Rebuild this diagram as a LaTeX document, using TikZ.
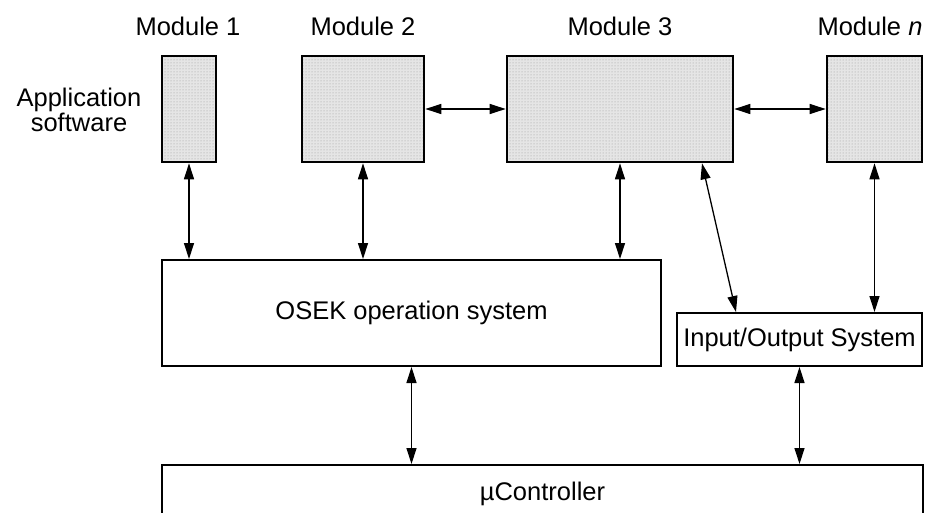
\documentclass[tikz,border=0pt]{standalone}
\usepackage{fontspec}
\setmainfont{Liberation Sans}
\usetikzlibrary{arrows.meta,patterns}
\begin{document}
\begin{tikzpicture}[x=1pt,y=-1pt,
  every node/.style={font=\fontsize{25.5}{23.5}\selectfont},
  modbox/.style={draw, line width=2.6pt, pattern=dots, pattern color=gray!80, inner sep=0pt},
  sysbox/.style={draw, line width=2pt, fill=white, inner sep=1pt},
  conn/.style={line width=1.3pt, {Triangle[length=16pt,width=10pt]}-{Triangle[length=16pt,width=10pt]}},
  lbl/.style={inner sep=0pt, anchor=base}
]
\useasboundingbox (0,0) rectangle (934,513);
% module backgrounds
\fill[gray!20] (162,56) rectangle (216,162);
\fill[gray!20] (302,56) rectangle (424,162);
\fill[gray!20] (507,56) rectangle (733,162);
\fill[gray!20] (827,56) rectangle (922,162);
% modules
\node[modbox, minimum width=54pt, minimum height=106pt] (m1) at (189,109) {};
\node[modbox, minimum width=122pt, minimum height=106pt] (m2) at (363,109) {};
\node[modbox, minimum width=226pt, minimum height=106pt] (m3) at (620,109) {};
\node[modbox, minimum width=95pt, minimum height=106pt] (mn) at (874.5,109) {};
% labels
\node[lbl] (l1) at (188,36) {Module 1};
\node[lbl] (l2) at (363,36) {Module 2};
\node[lbl] (l3) at (620,36) {Module 3};
\node[lbl] (ln) at (870,36) {Module \textit{n}};
\node[align=center, inner sep=0pt] (app) at (79,110) {Application\\software};
% systems
\node[sysbox, minimum width=499pt, minimum height=106pt] (os) at (411.5,313) {OSEK operation system};
\node[sysbox, minimum width=245pt, minimum height=53pt, inner sep=0pt] (io) at (799.5,339.5) {Input/Output System};
\node[draw, line width=2pt, anchor=north, minimum width=761pt, inner ysep=10pt, text height=25pt, text depth=60pt] (uc) at (542.5,464) {µController};
% connectors
\draw[conn] (m1.south) -- (m1.south |- os.north);
\draw[conn] (m2.south) -- (m2.south |- os.north);
\draw[conn] (m3.south) -- (m3.south |- os.north);
\draw[conn] (m2.east) -- (m3.west);
\draw[conn] (m3.east) -- (mn.west);
\draw[conn] ([xshift=82pt]m3.south) -- ([xshift=60pt]io.north west);
\draw[conn] (mn.south) -- (mn.south |- io.north);
\draw[conn] (os.south) -- (os.south |- uc.north);
\draw[conn] (io.south) -- (io.south |- uc.north);
\end{tikzpicture}
\end{document}
